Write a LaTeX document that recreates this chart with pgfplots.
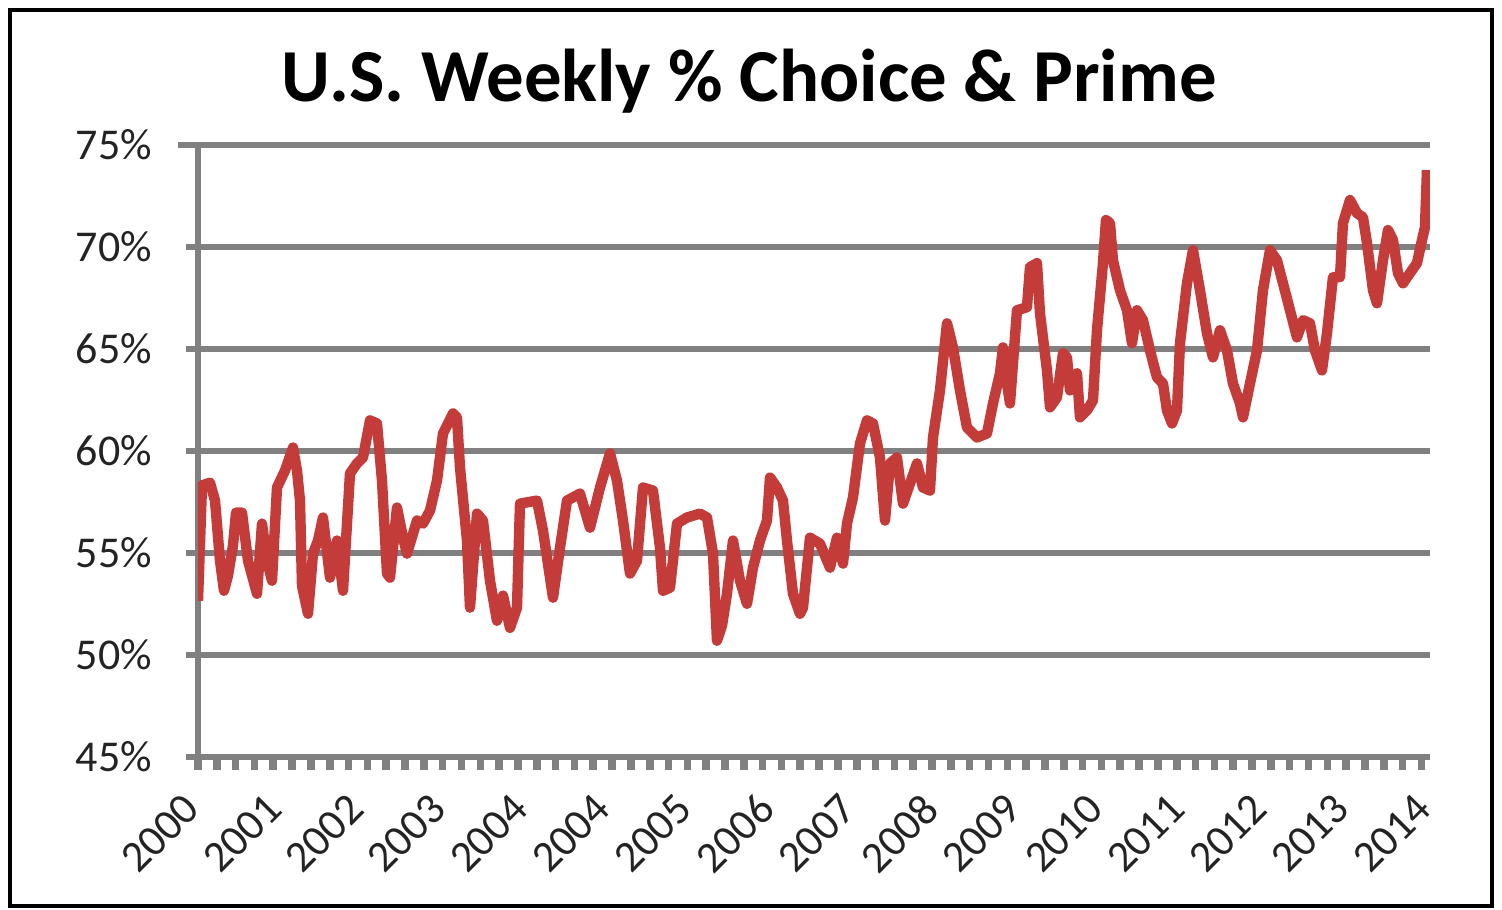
\documentclass[border=0pt]{standalone}
\usepackage{pgfplots}
\pgfplotsset{compat=1.18}
\usepackage{fontspec}
\setmainfont{Carlito}
\definecolor{linered}{RGB}{195,60,58}
\definecolor{gridgray}{RGB}{128,128,128}
\definecolor{labelcol}{RGB}{35,35,35}
\pgfplotsset{
  chartgeom/.style={
    at={(49.5pt,38.25pt)}, anchor=south west,
    scale only axis, width=308pt, height=153pt,
    xmin=0, xmax=720, ymin=45, ymax=75,
  }
}
\begin{document}
\begin{tikzpicture}
\begin{scope}[x=0.25pt,y=0.25pt]
\path[use as bounding box] (0,0) rectangle (1502,910);
\draw[line width=1pt] (10,4) rectangle (1492,900);
\node[anchor=base, inner sep=0pt] at (749,808) {\fontsize{18.7pt}{22pt}\selectfont\bfseries U.S. Weekly \% Choice \& Prime};
\end{scope}
% background axis: grid, axis lines
\begin{axis}[
  chartgeom,
  clip=false,
  axis lines=left,
  axis line style={-, draw=gridgray, line width=1.4pt},
  tick align=outside,
  ytick={45,50,...,75},
  yticklabels={45\%,50\%,55\%,60\%,65\%,70\%,75\%},
  ymajorgrids,
  major grid style={draw=gridgray, line width=1.6pt},
  ytick style={draw=gridgray, line width=1.6pt, shorten <=-2pt, shorten >=-2pt},
  major tick length=3pt,
  xtick=\empty,
  yticklabel style={font=\fontsize{11pt}{13pt}\selectfont, text=labelcol, xshift=-5pt},
]
% small tick marks under the category axis
\addplot[only marks, mark=square*, mark size=1.5pt, draw=gridgray, fill=gridgray, mark options={xscale=0.5, draw=gridgray, fill=gridgray}, forget plot] coordinates {
(0,44.705) (11,44.705) (22,44.705) (33,44.705) (44,44.705) (55,44.705) (66,44.705) (77,44.705) (88,44.705) (99,44.705)
(110,44.705) (121,44.705) (132,44.705) (143,44.705) (154,44.705) (165,44.705) (176,44.705) (187,44.705) (198,44.705) (209,44.705)
(220,44.705) (231,44.705) (242,44.705) (253,44.705) (264,44.705) (275,44.705) (286,44.705) (297,44.705) (308,44.705) (319,44.705)
(330,44.705) (341,44.705) (352,44.705) (363,44.705) (374,44.705) (385,44.705) (396,44.705) (407,44.705) (418,44.705) (429,44.705)
(440,44.705) (451,44.705) (462,44.705) (473,44.705) (484,44.705) (495,44.705) (506,44.705) (517,44.705) (528,44.705) (539,44.705)
(550,44.705) (561,44.705) (572,44.705) (583,44.705) (594,44.705) (605,44.705) (616,44.705) (627,44.705) (638,44.705) (649,44.705)
(660,44.705) (671,44.705) (682,44.705) (693,44.705) (704,44.705) (715,44.705)
};
\end{axis}
% foreground axis: x labels and data
\begin{axis}[
  chartgeom,
  axis line style={draw=none},
  ytick=\empty,
  xtick={0,48,...,720},
  xticklabels={2000,2001,2002,2003,2004,2004,2005,2006,2007,2008,2009,2010,2011,2012,2013,2014},
  xtick style={draw=none},
  xticklabel style={font=\fontsize{11pt}{13pt}\selectfont, text=labelcol, rotate=45, anchor=east, yshift=-6.8pt, xshift=-5.5pt},
]
\addplot[linered, line width=2.6pt, line join=round] coordinates {
(0,52.66) (2.34,58.31) (7.01,58.45) (9.94,57.57) (12.86,54.62) (15.19,53.15) (17.53,53.89) (20.45,55.36) (22.21,56.98) (25.71,56.98)
(29.22,54.62) (34.48,53.00) (37.40,56.44) (40.32,54.62) (43.25,53.64) (46.17,58.21) (50.84,59.04) (55.52,60.17) (57.86,59.04) (59.61,57.57)
(60.78,53.40) (64.29,52.02) (67.21,54.97) (70.13,55.61) (73.05,56.74) (77.14,53.79) (81.23,55.61) (84.74,53.15) (88.83,58.90) (92.92,59.39)
(96.43,59.68) (100.52,61.50) (104.61,61.35) (107.53,58.55) (110.46,53.99) (112.21,53.79) (116.30,57.23) (119.81,55.75) (122.14,54.97) (127.99,56.59)
(131.49,56.44) (135.59,57.08) (139.68,58.55) (143.18,60.86) (149.03,61.84) (151.36,61.65) (153.12,59.19) (157.21,55.61) (158.96,52.32) (163.05,56.93)
(166.56,56.59) (170.65,53.64) (174.74,51.68) (178.25,52.91) (182.34,51.33) (186.43,52.32) (188.18,57.42) (198.12,57.57) (201.62,56.10) (207.47,52.81)
(211.56,55.26) (215.65,57.57) (223.25,57.91) (229.09,56.24) (234.94,58.21) (240.78,59.88) (244.87,58.55) (248.38,56.59) (252.47,53.99) (256.56,54.62)
(260.07,58.21) (265.91,58.06) (270.00,55.26) (271.76,53.15) (275.85,53.30) (279.94,56.44) (285.78,56.74) (293.38,56.93) (297.47,56.74) (300.98,54.97)
(303.31,50.70) (306.24,51.43) (309.16,53.00) (312.66,55.61) (316.76,53.64) (320.85,52.51) (324.35,54.28) (328.44,55.61) (332.53,56.59) (334.29,58.70)
(338.38,58.21) (341.89,57.57) (344.22,55.61) (347.73,53.00) (351.82,52.02) (353.57,52.32) (357.67,55.75) (363.51,55.46) (369.35,54.28) (373.44,55.75)
(376.95,54.48) (379.29,56.44) (382.79,57.72) (386.89,60.37) (390.98,61.50) (394.48,61.35) (398.57,59.68) (401.50,56.59) (404.42,59.39) (408.51,59.68)
(412.02,57.42) (416.11,58.40) (420.20,59.39) (423.70,58.21) (427.79,58.06) (429.55,60.66) (433.64,62.97) (437.73,66.26) (441.23,65.08) (445.33,62.97)
(449.42,61.15) (455.26,60.66) (461.10,60.86) (464.61,62.33) (468.70,63.81) (470.46,65.08) (472.80,63.31) (474.55,62.33) (478.64,66.90) (484.48,67.05)
(486.24,69.01) (490.33,69.21) (492.08,66.75) (496.17,63.95) (497.93,62.14) (502.02,62.63) (505.52,64.79) (507.86,64.59) (509.61,62.97) (513.71,63.81)
(515.46,61.65) (519.55,61.99) (523.06,62.48) (525.39,65.92) (528.90,69.21) (530.65,71.32) (532.99,71.17) (534.74,69.35) (538.83,67.88) (542.93,66.90)
(545.85,65.28) (548.77,66.90) (552.28,66.41) (556.37,64.93) (560.46,63.61) (563.97,63.31) (566.30,61.99) (569.23,61.35) (572.15,61.99) (573.90,65.28)
(577.99,68.22) (581.50,69.84) (585.59,67.88) (589.68,65.77) (593.19,64.59) (597.28,65.92) (601.37,64.93) (604.87,63.31) (608.97,62.33) (610.72,61.65)
(614.81,63.31) (618.91,64.93) (622.41,67.88) (626.50,69.84) (630.59,69.35) (634.10,68.22) (638.19,66.90) (642.28,65.57) (645.79,66.41) (649.88,66.26)
(652.80,64.93) (656.89,63.95) (659.81,65.77) (663.32,68.52) (667.41,68.52) (669.16,71.17) (673.25,72.30) (677.35,71.66) (680.85,71.46) (683.19,70.19)
(686.70,67.88) (689.03,67.24) (692.54,69.35) (695.46,70.83) (698.38,70.34) (701.30,68.72) (704.23,68.22) (708.32,68.72) (712.41,69.21) (715.33,70.34)
(717.09,70.97) (718.25,73.77)
};
\end{axis}
\end{tikzpicture}
\end{document}
